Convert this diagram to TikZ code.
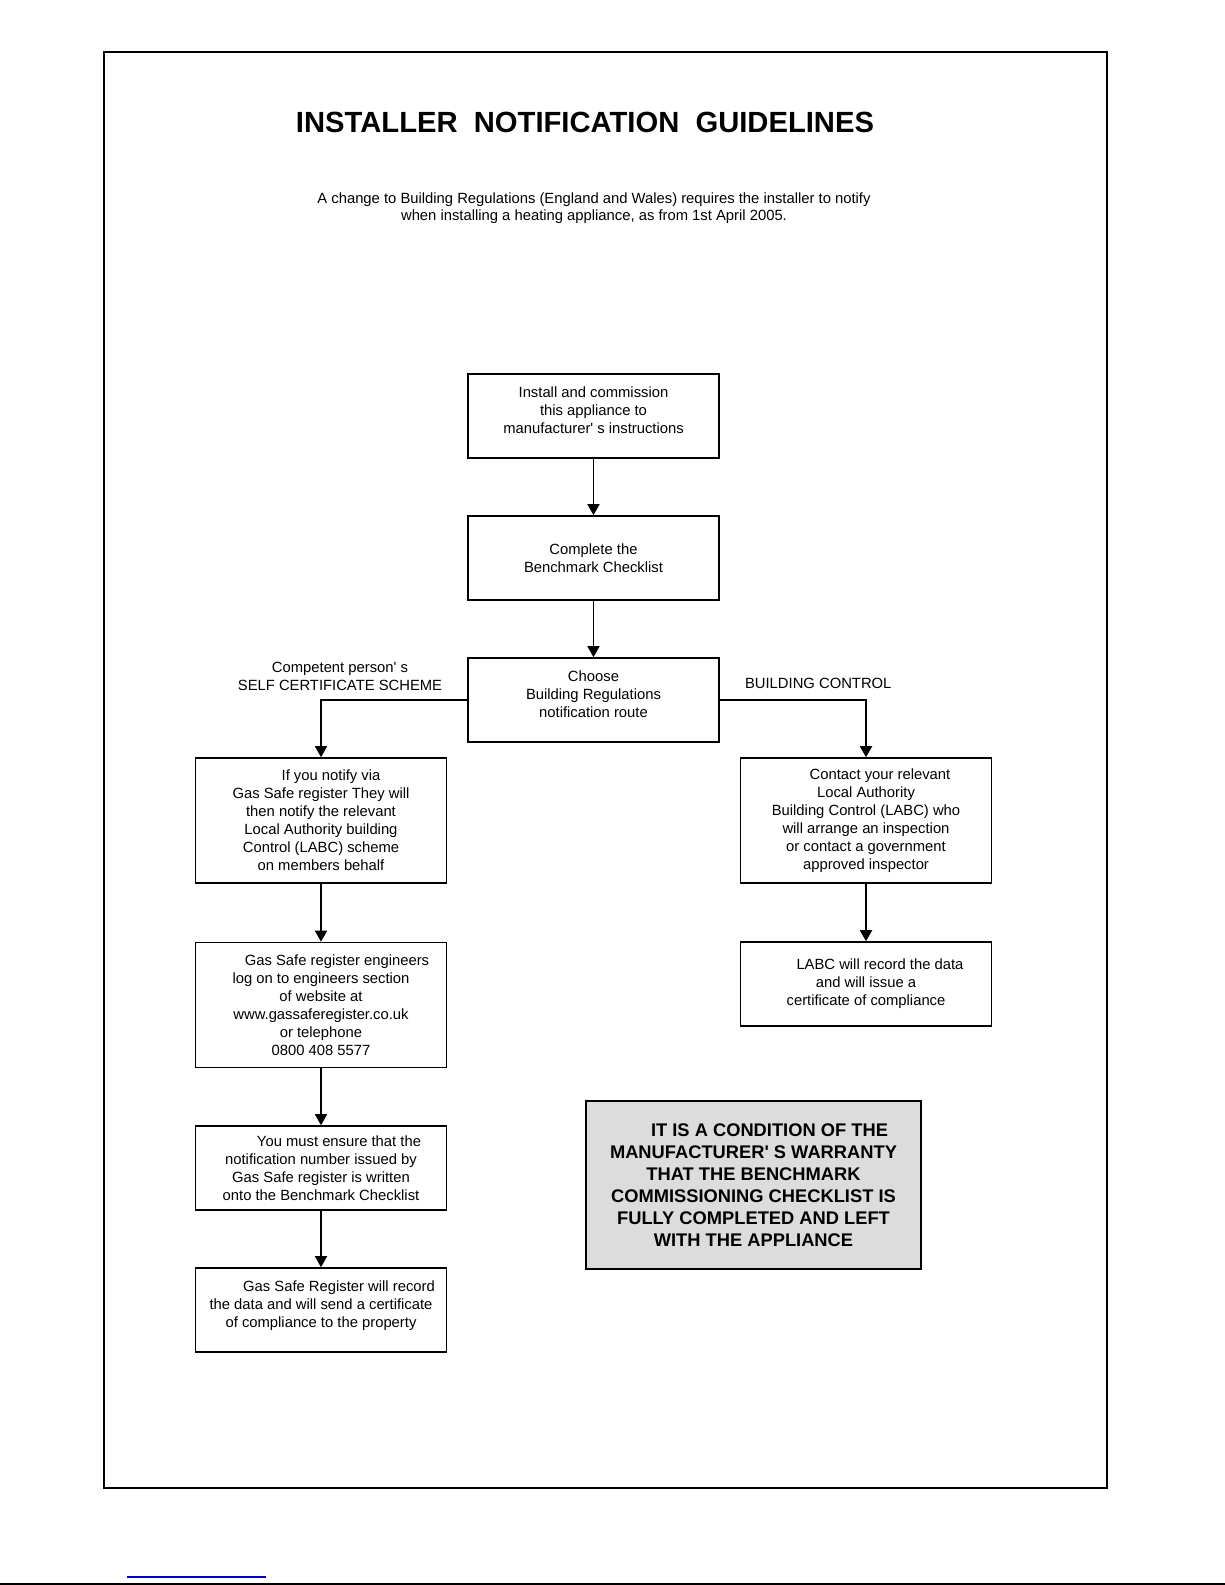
\documentclass[tikz,border=0pt]{standalone}
\usepackage{fontspec}
\setmainfont{Liberation Sans}
\usetikzlibrary{arrows.meta}

\tikzset{
  stepbox/.style={draw, line width=0.8pt, align=center, inner sep=0pt,
    minimum width=125.5pt, minimum height=42pt, font=\fontsize{7.4pt}{9pt}\selectfont},
  tallbox/.style={stepbox, minimum height=62.5pt},
  flow/.style={draw, line width=0.8pt, -{Triangle[width=6pt,length=5.5pt]}},
  routelabel/.style={align=center, font=\fontsize{7.4pt}{9pt}\selectfont},
}
\newcommand{\apos}{\textquotesingle}

\begin{document}
\begin{tikzpicture}[x=0.5pt,y=-0.5pt]
  \useasboundingbox (0,0) rectangle (1225,1585);
  \draw[line width=1pt] (104,52) rectangle (1107,1488);

  \node (title) at (585,122) {\fontsize{14.6pt}{17pt}\selectfont\bfseries INSTALLER\ \ NOTIFICATION\ \ GUIDELINES};
  \node[align=center, font=\fontsize{7.4pt}{8.5pt}\selectfont] (intro) at (594,208)
    {A change to Building Regulations (England and Wales) requires the installer to notify\\
     when installing a heating appliance, as from 1st April 2005.};

  % main column
  \node[stepbox] (install) at (593.5,416) {Install and commission\\this appliance to\\manufacturer\apos{} s instructions\\[-3pt]};
  \node[stepbox] (benchmark) at (593.5,558) {Complete the\\Benchmark Checklist};
  \node[stepbox] (choose) at (593.5,700) {Choose\\Building Regulations\\notification route\\[-3pt]};

  % self certificate route
  \node[tallbox] (notify) at (321,820.5) {\hspace{10pt}If you notify via\\Gas Safe register They will\\then notify the relevant\\Local Authority building\\Control (LABC) scheme\\on members behalf};
  \node[tallbox] (engineers) at (321,1005) {\hspace{16pt}Gas Safe register engineers\\log on to engineers section\\of website at\\www.gassaferegister.co.uk\\or telephone\\0800 408 5577};
  \node[stepbox] (ensure) at (321,1168) {\hspace{18pt}You must ensure that the\\notification number issued by\\Gas Safe register is written\\onto the Benchmark Checklist};
  \node[stepbox] (record) at (321,1310) {\hspace{18pt}Gas Safe Register will record\\the data and will send a certificate\\of compliance to the property\\[-3pt]};

  % building control route
  \node[tallbox] (contact) at (866,820.5) {\hspace{14pt}Contact your relevant\\Local Authority\\Building Control (LABC) who\\will arrange an inspection\\or contact a government\\approved inspector};
  \node[stepbox] (labc) at (866,984) {\hspace{14pt}LABC will record the data\\and will issue a\\certificate of compliance};

  \node[draw, line width=0.6pt, fill={rgb,255:red,220;green,220;blue,220}, minimum width=167.5pt,
    minimum height=84pt, align=center, font=\fontsize{9.15pt}{11pt}\selectfont\bfseries] (warranty) at (753.5,1185)
    {\hspace{16pt}IT IS A CONDITION OF THE\\MANUFACTURER\apos{} S WARRANTY\\THAT THE BENCHMARK\\COMMISSIONING CHECKLIST IS\\FULLY COMPLETED AND LEFT\\WITH THE APPLIANCE};

  \node[routelabel] (selfcert) at (340,676) {Competent person\apos{} s\\SELF CERTIFICATE SCHEME};
  \node[routelabel, anchor=west] (bcontrol) at (738,683) {BUILDING CONTROL};

  \draw[flow] (install) -- (benchmark);
  \draw[flow] (benchmark) -- (choose);
  \draw[flow] (choose.west) -| (notify.north);
  \draw[flow, line width=1pt] (choose.east) -| (contact.north);
  \draw[flow] (notify) -- (engineers);
  \draw[flow] (engineers) -- (ensure);
  \draw[flow] (ensure) -- (record);
  \draw[flow, line width=1pt] (contact) -- (labc);

  \draw[line width=1pt] (0,1584) -- (1225,1584);
  \draw[blue!80!black, line width=0.6pt] (127,1577) -- (266,1577);
\end{tikzpicture}
\end{document}
